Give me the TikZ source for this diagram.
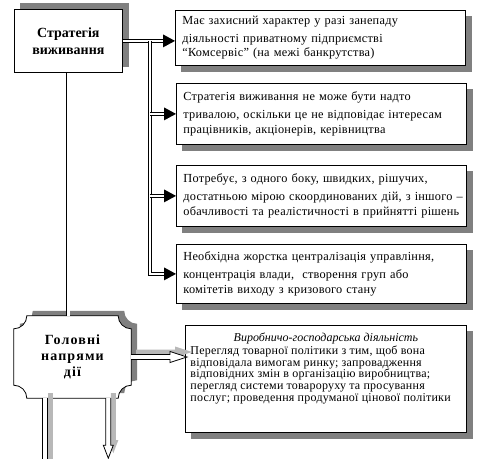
\documentclass[tikz,border=0pt]{standalone}
\usepackage{fontspec}
\setmainfont{Liberation Serif}
\newfontfamily\boxfont[LetterSpace=2]{Liberation Serif}
\newfontfamily\smallfont[LetterSpace=2]{Liberation Serif}
\newfontfamily\headfont[LetterSpace=8]{Liberation Serif}
\newcommand\boxrow[1]{\mbox{#1}}
\usetikzlibrary{calc,backgrounds}
\definecolor{shd}{HTML}{808080}
\definecolor{lshd}{HTML}{B8B8B8}
\begin{document}
\begin{tikzpicture}[x=1pt,y=-1pt,
  rbox/.style={draw=black, line width=0.8pt, fill=white, anchor=north west,
    minimum width=290pt, text width=276pt, inner xsep=7pt, align=left,
    font=\boxfont\fontsize{12.3}{14.2}\selectfont,
    execute at begin node={\vspace*{4pt}}},
  sbox/.style={draw=black, line width=0.8pt, fill=white, anchor=north west,
    minimum width=108pt, minimum height=63pt, align=center,
    font=\bfseries\fontsize{14}{17}\selectfont},
  dbl/.style={draw=black, double=white, double distance=2.4pt, line width=0.8pt},
  tipc/.style={fill=black},
  hollow/.style={draw=black, line width=0.8pt, fill=white},
  hshadow/.style={fill=lshd},
  gshadow/.style={fill=shd},
  gface/.style={draw=black, line width=0.8pt, fill=white},
]
\useasboundingbox (0,0) rectangle (479,458);

% nodes
\node[sbox] (s) at (14,9) {Стратегія\\виживання};

\node[rbox, minimum height=55pt] (b1) at (175,10)
  {\boxrow{Має захисний характер у разі занепаду}\\\boxrow{діяльності приватному підприємстві}\\\boxrow{“Комсервіс” (на межі банкрутства)}};
\node[rbox, minimum height=61pt] (b2) at (176,83)
  {\boxrow{Стратегія виживання не може бути надто}\\\boxrow{тривалою, оскільки це не відповідає інтересам}\\\boxrow{працівників, акціонерів, керівництва}};
\node[rbox, minimum height=61pt] (b3) at (176,165)
  {\boxrow{Потребує, з одного боку, швидких, рішучих,}\\\boxrow{достатньою мірою скоординованих дій, з іншого –}\\\boxrow{обачливості та реалістичності в прийнятті рішень}};
\node[rbox, minimum height=59pt] (b4) at (176,244)
  {\boxrow{Необхідна жорстка централізація управління,}\\\boxrow{концентрація влади,~ створення груп або}\\\boxrow{комітетів виходу з кризового стану}};

\node[draw=black, line width=0.8pt, fill=white, anchor=north west, inner xsep=5pt, inner ysep=3pt] (b5) at (185,325)
  {\begin{minipage}[t][101pt][t]{271pt}\smallfont\fontsize{12}{11.8}\selectfont
   \vspace*{5pt}
   \centerline{\fontspec{Liberation Serif}\fontsize{12}{11.8}\selectfont\itshape Виробничо-господарська діяльність}\vspace{0.5pt}
   \boxrow{Перегляд товарної політики з тим, щоб вона}\\
   \boxrow{відповідала вимогам ринку; запровадження}\\
   \boxrow{відповідних змін в організацію виробництва;}\\
   \boxrow{перегляд системи товароруху та просування}\\
   \boxrow{послуг; проведення продуманої цінової політики}\end{minipage}};

\node[minimum width=117pt, minimum height=82pt, inner sep=0pt, align=center,
  font=\headfont\bfseries\fontsize{14}{16}\selectfont] (g) at (72.5,357) {Головні\\напрями\\дії};

\begin{scope}[on background layer]
  \fill[white] (0,0) rectangle (479,458);
  % shadows of the boxes
  \fill[shd] ($(s.north west)+(6,-6)$) rectangle ($(s.south east)+(6,-6)$);
  \foreach \n in {b1,b2,b3,b4,b5}
    \fill[shd] ($(\n.north west)+(6,6)$) rectangle ($(\n.south east)+(6,6)$);
  % plaque shape of main directions
  \foreach \dx/\dy/\sty in {6/-5/gshadow, 0/0/gface} {
    \path[\sty]
      ($(g.north west)+(13+\dx,\dy)$) -- ($(g.north east)+(-13+\dx,\dy)$)
      arc[start angle=180, end angle=270, radius=13pt]
      -- ($(g.south east)+(\dx,-13+\dy)$)
      arc[start angle=90, end angle=180, radius=13pt]
      -- ($(g.south west)+(13+\dx,\dy)$)
      arc[start angle=0, end angle=90, radius=13pt]
      -- ($(g.north west)+(\dx,13+\dy)$)
      arc[start angle=270, end angle=360, radius=13pt] -- cycle;
  }
  \draw[dbl] (s.south) -- (s.south |- g.north);
\end{scope}

% double connectors from strategy box
\coordinate (j) at ($(s.east)!0.5!(s.east -| b1.west)+(1,0)$);
\draw[dbl, shorten >=6pt] (s.east) -- (s.east -| b1.west);
\draw[dbl, shorten >=6pt] (j) |- (b4.west);
\draw[dbl, shorten >=6pt] (j |- b2.west) -- (b2.west);
\draw[dbl, shorten >=6pt] (j |- b3.west) -- (b3.west);
\foreach \t in {s.east -| b1.west, b2.west, b3.west, b4.west} {
  \fill[tipc] ($(\t)+(-12,-6.5)$) -- (\t) -- ($(\t)+(-12,6.5)$) -- cycle;
}

% hollow arrows from main directions
\coordinate (h0) at (g.east);
\coordinate (h1) at ($(g.east -| b5.west)+(2,0)$);
\coordinate (d1) at ($(g.south west)+(31.5,0)$);
\coordinate (e1) at ($(d1)+(0,70)$);
\coordinate (d2) at ($(g.south west)+(94.5,0)$);
\coordinate (e2) at ($(d2)+(0,60)$);
\foreach \dx/\dy/\sty in {5/-5/hshadow, 0/0/hollow} {
  \path[\sty] ($(h0)+(\dx,-2.5+\dy)$) -- ($(h1)+(-17+\dx,-2.5+\dy)$) -- ($(h1)+(-17+\dx,-5.5+\dy)$)
     -- ($(h1)+(\dx,\dy)$)
     -- ($(h1)+(-17+\dx,5.5+\dy)$) -- ($(h1)+(-17+\dx,2.5+\dy)$) -- ($(h0)+(\dx,2.5+\dy)$);
  \path[\sty] ($(d1)+(-2.5+\dx,\dy)$) -- ($(e1)+(-2.5+\dx,\dy)$) -- ($(e1)+(2.5+\dx,\dy)$)
     -- ($(d1)+(2.5+\dx,\dy)$);
  \path[\sty] ($(d2)+(-2.5+\dx,\dy)$) -- ($(e2)+(-2.5+\dx,-13+\dy)$) -- ($(e2)+(-5+\dx,-13+\dy)$)
     -- ($(e2)+(\dx,\dy)$)
     -- ($(e2)+(5+\dx,-13+\dy)$) -- ($(e2)+(2.5+\dx,-13+\dy)$) -- ($(d2)+(2.5+\dx,\dy)$);
}
\end{tikzpicture}
\end{document}
